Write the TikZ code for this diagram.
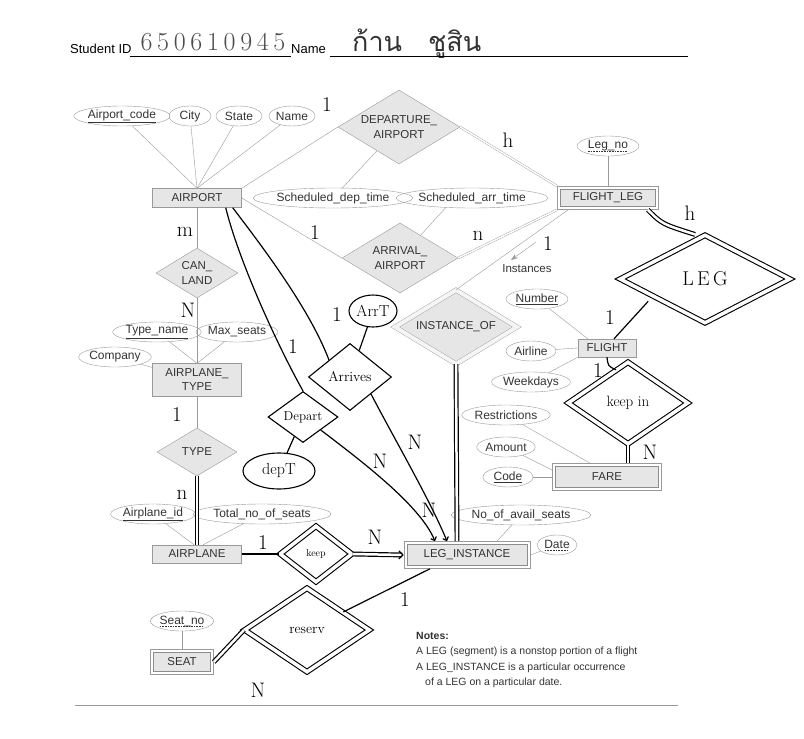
\documentclass[tikz,border=0pt]{standalone}
\usepackage{fontspec}
\setmainfont{Liberation Sans}
\newfontfamily\handfont{Latin Modern Roman}
\newfontfamily\handwide[LetterSpace=18]{Latin Modern Roman}
\newfontfamily\thaifont[Script=Thai]{Loma}
\usetikzlibrary{shapes.geometric,arrows.meta,fit}

\definecolor{bookline}{HTML}{999999}
\definecolor{bookfill}{HTML}{E6E6E6}
\definecolor{booktext}{HTML}{333333}

% dashed underline for partial keys
\newcommand\dashkey[1]{\setbox0\hbox{#1}\rlap{\raisebox{-2.2pt}{\hbox to \wd0{\xleaders\hbox{\rule{1.6pt}{0.4pt}\hspace{1pt}}\hfill}}}\box0}

\tikzset{
  book/.style={draw=bookline, text=booktext, inner sep=0pt},
  entity/.style={book, rectangle, fill=bookfill, align=center,
    font=\fontsize{11.5}{14}\selectfont},
  weakentity/.style={entity, draw=black!45, line width=0.6pt,
    append after command={node[draw=black!40, line width=0.6pt, fit=(\tikzlastnode), inner sep=2.5pt] {}}},
  attr/.style={book, ellipse, minimum height=20, font=\fontsize{12}{14}\selectfont},
  rel/.style={book, diamond, aspect=1.6, fill=bookfill, align=center,
    font=\fontsize{11.5}{15}\selectfont},
  idrel/.style={rel, double=bookfill!40, double distance=4pt},
  link/.style={draw=bookline},
  idlink/.style={draw=bookline, double=white, double distance=1.5pt},
  hand/.style={black, line width=1.2pt},
  handdouble/.style={hand, double=white, double distance=2.5pt},
  handrel/.style={diamond, aspect=1.5, draw=black, line width=1.1pt, fill=white,
    inner sep=0pt, font=\handfont\fontsize{13}{13}\selectfont},
  handidrel/.style={handrel, double=white, double distance=3.5pt},
  handattr/.style={ellipse, draw=black, line width=1.1pt, fill=white, inner sep=0pt,
    font=\handfont\fontsize{16}{16}\selectfont},
  card/.style={inner sep=0pt, font=\handfont\fontsize{21}{21}\selectfont}
}

\begin{document}
\begin{tikzpicture}[x=1pt, y=-1pt]
\useasboundingbox (0,0) rectangle (804,739);

% header
\node[anchor=base west, inner sep=0pt, font=\fontsize{13}{15}\selectfont] (sidlabel) at (70,53) {Student ID};
\node[anchor=base, inner sep=0pt, text=black!70, font=\handwide\fontsize{26}{26}\selectfont] (sidvalue) at (213,50) {650610945};
\node[anchor=base west, inner sep=0pt, font=\fontsize{13}{15}\selectfont] (namelabel) at (291,53) {Name};
\node[anchor=base west, inner sep=0pt, text=black!80, font=\thaifont\fontsize{27}{27}\selectfont] (namevalue) at (352,51) {ก้าน\hspace{26pt}ชูสิน};
\draw (130,56) -- (291,56);
\draw (330,56) -- (688,56);

% entities
\node[entity, minimum width=89, minimum height=19] (airport) at (197,198) {AIRPORT};
\node[weakentity, minimum width=95, minimum height=17] (flightleg) at (608,198) {FLIGHT\_LEG};
\node[entity, minimum width=89, minimum height=33] (airplanetype) at (197,380) {AIRPLANE\_\\TYPE};
\node[entity, minimum width=89, minimum height=18] (airplane) at (197,554) {AIRPLANE};
\node[entity, minimum width=58, minimum height=18] (flight) at (607,348) {FLIGHT};
\node[weakentity, minimum width=103, minimum height=21] (fare) at (607,477) {FARE};
\node[weakentity, minimum width=120, minimum height=21] (leginst) at (467,555) {LEG\_INSTANCE};
\node[weakentity, minimum width=57, minimum height=19] (seat) at (182,662) {SEAT};

% attributes
\node[attr, minimum width=86] (acode) at (122,116) {\underline{Airport\_code}};
\node[attr, minimum width=42] (city) at (190,116) {City};
\node[attr, minimum width=46] (state) at (239,116) {State};
\node[attr, minimum width=46] (aname) at (292,116) {Name};
\node[attr, minimum width=126] (deptime) at (333,198) {Scheduled\_dep\_time};
\node[attr, minimum width=128] (arrtime) at (472,198) {Scheduled\_arr\_time};
\node[attr, minimum width=62] (legno) at (608,146) {\dashkey{Leg\_no}};
\node[attr, minimum width=72] (tname) at (157,332) {\underline{Type\_name}};
\node[attr, minimum width=70] (maxseats) at (237,332) {Max\_seats};
\node[attr, minimum width=62] (company) at (115,357) {Company};
\node[attr, minimum width=76] (apid) at (153,514) {\underline{Airplane\_id}};
\node[attr, minimum width=114] (totseats) at (262,514) {Total\_no\_of\_seats};
\node[attr, minimum width=62] (number) at (537,299) {\underline{Number}};
\node[attr, minimum width=50] (airline) at (531,351) {Airline};
\node[attr, minimum width=66] (weekdays) at (531,382) {Weekdays};
\node[attr, minimum width=82] (restrict) at (506,415) {Restrictions};
\node[attr, minimum width=52] (amount) at (506,447) {Amount};
\node[attr, minimum width=50] (code) at (508,477) {\underline{Code}};
\node[attr, minimum width=106] (avail) at (521,515) {No\_of\_avail\_seats};
\node[attr, minimum width=40] (date) at (557,545) {\dashkey{Date}};
\node[attr, minimum width=52] (seatno) at (182,621) {\dashkey{Seat\_no}};

% relationships
\node[rel, minimum width=122, minimum height=74] (depart) at (399,127) {DEPARTURE\_\\AIRPORT};
\node[rel, minimum width=116, minimum height=70] (arrive) at (400,258) {ARRIVAL\_\\AIRPORT};
\node[rel, minimum width=82, minimum height=50] (canland) at (197,273) {CAN\_\\LAND};
\node[rel, minimum width=80, minimum height=48] (type) at (197,452) {TYPE};
\node[idrel, minimum width=122, minimum height=74] (instof) at (456,327) {INSTANCE\_OF};

% book connectors
\foreach \a in {acode,city,state,aname}
  \draw[link] (\a) -- (airport.north);
\draw[link] (airport.north east) -- (depart.west);
\draw[link] (airport.east) -- (arrive.west);
\draw[link] (deptime) -- (depart);
\draw[link] (arrtime.200) -- (arrive);
\draw[link] (legno) -- ([yshift=3]flightleg.north);
\draw[idlink] (depart.east) -- ([xshift=-3,yshift=3]flightleg.north west);
\draw[idlink] (arrive.east) -- ([xshift=-3,yshift=-3]flightleg.south west);
\draw[link] ([xshift=8,yshift=-3]flightleg.south west) -- (instof.north);
\draw[link] (airport) -- (canland);
\draw[link] (canland) -- (airplanetype);
\draw[link] (tname) -- (airplanetype.north);
\draw[link] (maxseats) -- (airplanetype.north);
\draw[link] (company) -- (airplanetype);
\draw[link] (airplanetype) -- (type);
\draw[link] (apid) -- ([xshift=-3]airplane.north);
\draw[link] (totseats) -- ([xshift=6]airplane.north);
\draw[link] (number) -- ([xshift=10]flight.north west);
\draw[link] (airline) -- (flight.west);
\draw[link] (weekdays) -- (flight.south west);
\draw[link] (restrict) -- ([xshift=-17,yshift=3]fare.north);
\draw[link] (amount) -- ([xshift=-3,yshift=7]fare.west);
\draw[link] (code) -- ([xshift=-3]fare.west);
\draw[link] (avail) -- ([xshift=30,yshift=3]leginst.north);
\draw[link] (date) -- ([xshift=3]leginst.east);
\draw[link] (seatno) -- ([yshift=3]seat.north);

\coordinate (instfrom) at (536,242);
\coordinate (instto) at (511,260);
\draw[link, -{Stealth[length=7pt, width=5pt]}] (instfrom) -- (instto);
\node[text=booktext, font=\fontsize{11.5}{13}\selectfont] (instances) at (527,269) {Instances};

% handwritten part
\node[handidrel, minimum width=170, minimum height=88, font=\handfont\fontsize{20}{20}\selectfont] (legrel) at (705,279) {L\,E\,G};
\node[handidrel, minimum width=120, minimum height=82, font=\handfont\fontsize{15}{15}\selectfont] (keepin) at (628,403) {keep in};
\node[handidrel, minimum width=72, minimum height=56, font=\handfont\fontsize{10}{10}\selectfont] (keep) at (316,554) {keep};
\node[handidrel, minimum width=125, minimum height=84, font=\handfont\fontsize{14}{14}\selectfont] (reserv) at (307,630) {reserv};
\node[handrel, minimum width=83, minimum height=67, font=\handfont\fontsize{14}{14}\selectfont] (arrives) at (350,377) {Arrives};
\node[handrel, minimum width=70, minimum height=51] (departs) at (303,417) {Depart};
\node[handattr, minimum width=48, minimum height=32] (arrT) at (373,311) {ArrT};
\node[handattr, minimum width=72, minimum height=36] (depT) at (279,471) {depT};

\draw[handdouble] (type) -- (airplane);
\draw[handdouble] (instof.south) -- ([xshift=-10,yshift=3]leginst.north);
\draw[hand] ([xshift=-16]airport.south east) .. controls (240,265) and (280,350) .. (departs.north);
\draw[hand, -{Straight Barb[length=3pt]}] (departs.south east) .. controls (360,460) and (420,505) .. ([xshift=-32,yshift=3]leginst.north);
\draw[hand] ([xshift=-9]airport.south east) .. controls (265,250) and (310,310) .. (arrives.north west);
\draw[hand, -{Straight Barb[length=3pt]}] (arrives.south east) .. controls (395,440) and (430,500) .. ([xshift=-20,yshift=3]leginst.north);
\draw[hand] (arrT) -- (arrives);
\draw[hand] (departs) -- (depT);
\draw[hand] (airplane) -- (keep);
\draw[handdouble, -{Straight Barb[length=4pt]}] (keep.east) -- ([xshift=-3]leginst.west);
\draw[hand] ([xshift=-37,yshift=-3]leginst.south) -- (reserv);
\draw[handdouble] ([xshift=3]seat.east) -- (reserv.west);
\draw[handdouble] ([xshift=-8,yshift=-3]flightleg.south east) .. controls (662,224) .. ([xshift=-10]legrel.north);
\draw[hand] ([xshift=7]flight.north) -- ([xshift=-14]legrel.south west);
\draw[hand] (flight.south) .. controls (608,366) .. (keepin.110);
\draw[handdouble] (keepin.south) -- ([yshift=3]keepin.south |- fare.north);

% cardinalities
\foreach \x/\y/\t [count=\i] in {327/105/1, 508/140/h, 315/233/1, 478/236/n, 548/244/1,
    690/213/h, 185/232/m, 188/310/N, 177/415/1, 182/495/n, 293/347/1, 337/315/1,
    380/461/N, 415/442/N, 429/510/N, 263/543/1, 375/537/N, 405/600/1, 258/690/N,
    610/318/1, 598/371/1, 650/452/N}
  \node[card] (card\i) at (\x,\y) {\t};

% notes
\node[anchor=north west, align=left, inner sep=0pt, text=booktext,
  font=\fontsize{10.5}{15.5}\selectfont] (notes) at (416,632)
  {\textbf{Notes:}\\A LEG (segment) is a nonstop portion of a flight\\
   A LEG\_INSTANCE is a particular occurrence\\\hspace*{9pt}of a LEG on a particular date.};
\draw[bookline, line width=0.8pt] (75,705) -- (678,705);
\end{tikzpicture}
\end{document}
